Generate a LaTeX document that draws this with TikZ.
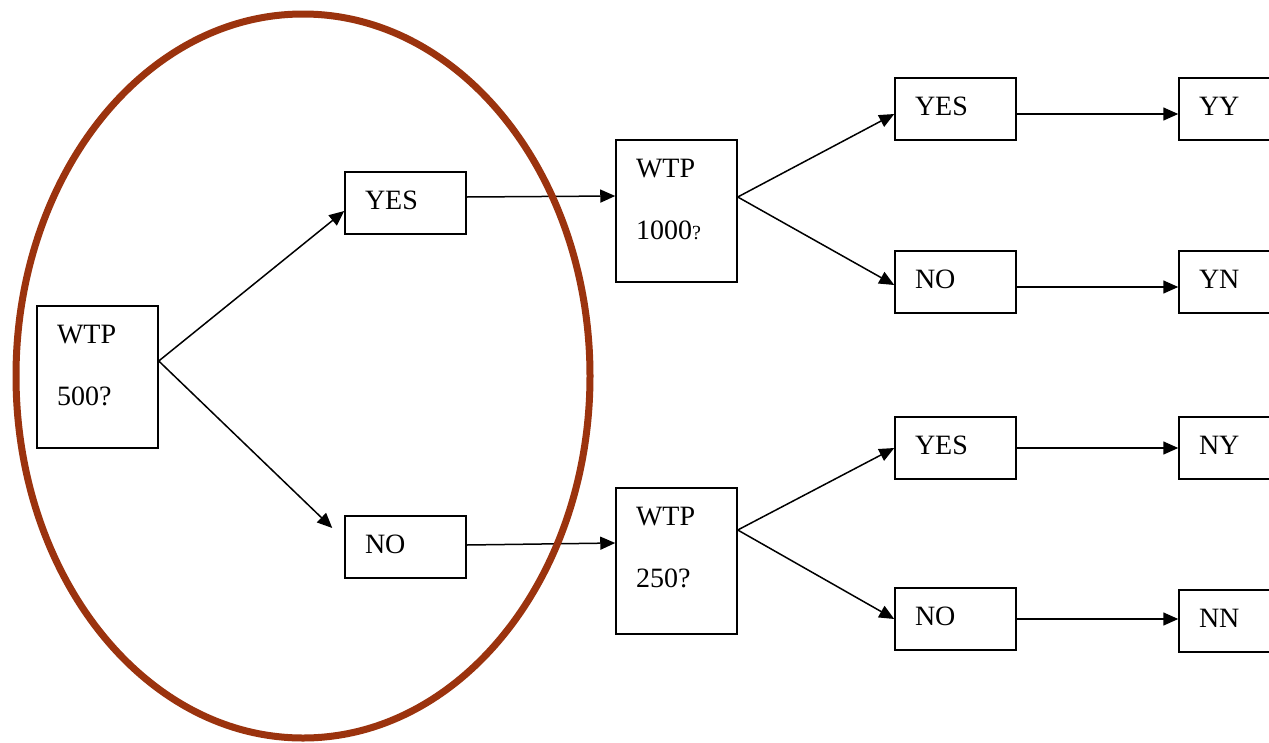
\documentclass[tikz,border=0pt]{standalone}
\usepackage{fontspec}
\setmainfont{Liberation Serif}
\usetikzlibrary{arrows.meta}
\definecolor{rim}{RGB}{155,51,14}
\newcommand{\bxt}[2]{\parbox[c][#1][t]{81pt}{\fontsize{28pt}{62pt}\selectfont\vspace*{19pt}#2}}
\newcommand{\smq}{{\fontsize{20pt}{62pt}\selectfont ?}}
\begin{document}
\begin{tikzpicture}[x=1pt,y=-1pt,
  box/.style={draw, line width=1.5pt, inner xsep=20pt, inner ysep=0pt},
  arr/.style={line width=1.5pt, -{Triangle[length=15pt,width=13pt]}}]
\useasboundingbox (0,0) rectangle (1269,742);
\clip (0,0) rectangle (1269,742);
\fill[white] (0,0) rectangle (1269,742);
% boxes
\node[box] (w500) at (97.5,377) {\bxt{142pt}{WTP\\500?}};
\node[box] (yes1) at (405.5,203) {\bxt{62pt}{YES}};
\node[box] (no1) at (405.5,547) {\bxt{62pt}{NO}};
\node[box] (w1000) at (676.5,211) {\bxt{142pt}{WTP\\1000\smq}};
\node[box] (w250) at (676.5,561) {\bxt{146pt}{WTP\\250?}};
\node[box] (yes2) at (955.5,109) {\bxt{62pt}{YES}};
\node[box] (no2) at (955.5,282) {\bxt{62pt}{NO}};
\node[box] (yes3) at (955.5,448) {\bxt{62pt}{YES}};
\node[box] (no3) at (955.5,619) {\bxt{62pt}{NO}};
\node[box] (yy) at (1239.5,109) {\bxt{62pt}{YY}};
\node[box] (yn) at (1239.5,282) {\bxt{62pt}{YN}};
\node[box] (ny) at (1239.5,448) {\bxt{62pt}{NY}};
\node[box] (nn) at (1239.5,621) {\bxt{62pt}{NN}};
% connectors
\draw[arr] ([yshift=16pt]w500.east) -- ([yshift=-8pt]yes1.west);
\draw[arr] ([yshift=16pt]w500.east) -- ([xshift=-12pt,yshift=19pt]no1.west);
\draw[arr] ([yshift=6pt]yes1.east) -- ([yshift=15pt]w1000.west);
\draw[arr] ([yshift=2pt]no1.east) -- ([yshift=18pt]w250.west);
\draw[arr] ([yshift=14pt]w1000.east) -- ([yshift=-5pt]yes2.west);
\draw[arr] ([yshift=14pt]w1000.east) -- ([yshift=-3pt]no2.west);
\draw[arr] ([yshift=31pt]w250.east) -- (yes3.west);
\draw[arr] ([yshift=31pt]w250.east) -- (no3.west);
\draw[arr] ([yshift=-5pt]yes2.east) -- ([yshift=-5pt]yy.west);
\draw[arr] ([yshift=-5pt]no2.east) -- ([yshift=-5pt]yn.west);
\draw[arr] (yes3.east) -- (ny.west);
\draw[arr] (no3.east) -- ([yshift=2pt]nn.west);
% ellipse
\draw[rim, line width=7pt] (303,376) ellipse [x radius=287pt, y radius=362pt];
\end{tikzpicture}
\end{document}
